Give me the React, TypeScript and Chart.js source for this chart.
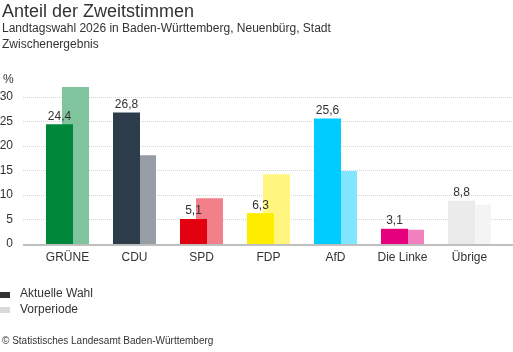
import React, { useEffect, useRef } from 'react';
import { Chart, registerables } from 'chart.js';

Chart.register(...registerables);

const categories = ['GRÜNE', 'CDU', 'SPD', 'FDP', 'AfD', 'Die Linke', 'Übrige'];
const currentValues = [24.4, 26.8, 5.1, 6.3, 25.6, 3.1, 8.8];
const previousValues = [32.0, 18.1, 9.3, 14.2, 14.9, 2.9, 8.0];
const currentColors = ['#00883A', '#2D3C4B', '#E3000F', '#FFED00', '#00CCFF', '#E5007D', '#EBEBEB'];
const previousColors = ['#80C49D', '#969DA5', '#F1808A', '#FFF57F', '#80E5FF', '#F080BE', '#F4F4F4'];
const yMax = 32;
const yStep = 5;

const FONT = "'Liberation Sans', Arial, sans-serif";
const TEXT = '#333333';

const fmt = (v: number) => v.toFixed(1).replace('.', ',');

const decorPlugin = {
  id: 'decor',
  beforeDatasetsDraw(chart: any) {
    const { ctx, chartArea, scales } = chart;
    const y = scales.y;
    ctx.save();
    ctx.strokeStyle = '#d4d4d4';
    ctx.lineWidth = 1;
    ctx.setLineDash([1, 1]);
    for (const t of y.ticks) {
      if (t.value <= 0) continue;
      const py = Math.round(y.getPixelForValue(t.value)) + 0.5;
      ctx.beginPath();
      ctx.moveTo(chartArea.left - 11, py);
      ctx.lineTo(chart.width, py);
      ctx.stroke();
    }
    ctx.restore();
  },
  afterDatasetsDraw(chart: any) {
    const { ctx, chartArea, scales } = chart;
    const y = scales.y;
    ctx.save();
    const y0 = y.getPixelForValue(0);
    ctx.strokeStyle = '#aaaaaa';
    ctx.lineWidth = 1.5;
    ctx.beginPath();
    ctx.moveTo(chartArea.left - 11, y0 + 1);
    ctx.lineTo(chart.width, y0 + 1);
    ctx.stroke();

    const meta = chart.getDatasetMeta(0);
    ctx.fillStyle = TEXT;
    ctx.font = `12px ${FONT}`;
    ctx.textAlign = 'center';
    ctx.textBaseline = 'alphabetic';
    meta.data.forEach((el: any, i: number) => {
      ctx.fillText(fmt(currentValues[i]), el.x, el.y - 4.5);
    });
    ctx.restore();
  },
};

export default function App() {
  const ref = useRef<HTMLCanvasElement>(null);

  useEffect(() => {
    document.body.style.margin = '0';
    const canvas = ref.current!;
    const chart = new Chart(canvas, {
      type: 'bar',
      data: {
        labels: categories,
        datasets: [
          {
            label: 'Aktuelle Wahl',
            data: currentValues,
            backgroundColor: currentColors,
            borderWidth: 0,
          },
          {
            label: 'Vorperiode',
            data: previousValues,
            backgroundColor: previousColors,
            borderWidth: 0,
          },
        ],
      },
      options: {
        animation: false,
        responsive: false,
        devicePixelRatio: 1,
        categoryPercentage: 32 / 67,
        barPercentage: 27 / 16,
        layout: { padding: { left: 0, top: 87, right: 10, bottom: 78 } },
        plugins: {
          legend: { display: false },
          tooltip: { enabled: false },
        },
        scales: {
          x: {
            grid: { display: false, drawTicks: false },
            border: { display: false },
            ticks: {
              color: TEXT,
              font: { family: FONT, size: 12 },
              padding: 6,
              maxRotation: 0,
              autoSkip: false,
            },
            afterFit: (s: any) => {
              s.height = 30;
            },
          },
          y: {
            min: 0,
            max: yMax,
            grid: { display: false, drawTicks: false },
            border: { display: false },
            ticks: {
              stepSize: yStep,
              includeBounds: false,
              color: TEXT,
              font: { family: FONT, size: 12 },
              padding: 21,
            },
            afterFit: (s: any) => {
              s.width = 34;
            },
          },
        },
      },
      plugins: [decorPlugin],
    } as any);
    return () => chart.destroy();
  }, []);

  const txt: React.CSSProperties = {
    position: 'absolute',
    fontFamily: FONT,
    color: TEXT,
    whiteSpace: 'nowrap',
    margin: 0,
  };

  return (
    <div style={{ position: 'relative', width: 513, height: 352, overflow: 'hidden', background: '#fff' }}>
      <canvas ref={ref} width={513} height={352} style={{ position: 'absolute', left: 0, top: 0 }} />
      <div style={{ ...txt, left: 2, top: 2, fontSize: 18, lineHeight: '18px' }}>Anteil der Zweitstimmen</div>
      <div style={{ ...txt, left: 2, top: 20, fontSize: 12, lineHeight: '16px' }}>
        Landtagswahl 2026 in Baden-Württemberg, Neuenbürg, Stadt
        <br />
        Zwischenergebnis
      </div>
      <div style={{ ...txt, left: 3, top: 72, fontSize: 12, lineHeight: '15px' }}>%</div>
      <div style={{ position: 'absolute', left: 0, top: 292, width: 10, height: 6, background: '#333333' }} />
      <div style={{ ...txt, left: 20, top: 286, fontSize: 12, lineHeight: '15px' }}>Aktuelle Wahl</div>
      <div style={{ position: 'absolute', left: 0, top: 307, width: 10, height: 6, background: '#d9d9d9' }} />
      <div style={{ ...txt, left: 20, top: 302, fontSize: 12, lineHeight: '15px' }}>Vorperiode</div>
      <div style={{ ...txt, left: 2, top: 335, fontSize: 10, lineHeight: '12px' }}>
        © Statistisches Landesamt Baden-Württemberg
      </div>
    </div>
  );
}
